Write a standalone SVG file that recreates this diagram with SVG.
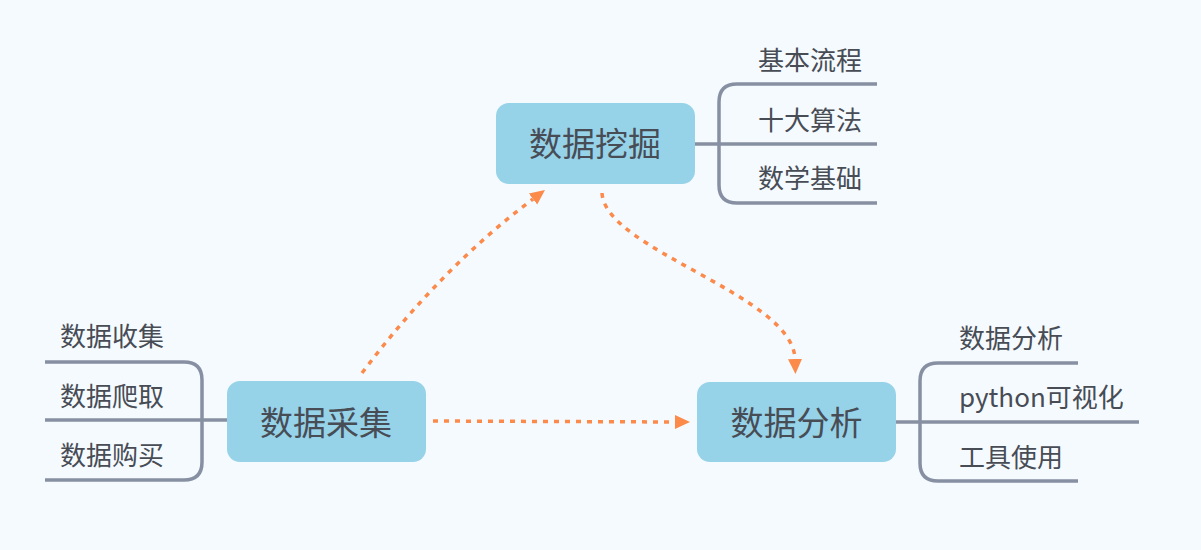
<svg xmlns="http://www.w3.org/2000/svg" width="1201" height="550" viewBox="0 0 1201 550">
  <style>
    .box { fill: #96d2e8; }
    .main { font-family: "Noto Sans CJK SC", "Noto Sans", sans-serif; font-size: 33px; fill: #474c55; text-anchor: middle; }
    .sub { font-family: "Noto Sans CJK SC", "Noto Sans", sans-serif; font-size: 26px; fill: #474c55; }
    .branch { fill: none; stroke: #8790a2; stroke-width: 3.5; stroke-linejoin: round; }
    .link { fill: none; stroke: #fb8a4b; stroke-width: 3.5; stroke-dasharray: 5 6; }
  </style>
  <defs>
    <marker id="arrow" markerUnits="userSpaceOnUse" markerWidth="16" markerHeight="16" viewBox="0 0 16 16" refX="0" refY="8" orient="auto">
      <path d="M0,1 L15,8 L0,15 Z" fill="#fb8a4b"/>
    </marker>
  </defs>
  <rect x="0" y="0" width="1201" height="550" fill="#f5faff"/>

  <g id="connectors">
    <path class="link" d="M362,373 Q441,268 533,199" marker-end="url(#arrow)"/>
    <path class="link" d="M602,193 C605,250 793,295 795,359" marker-end="url(#arrow)"/>
    <path class="link" d="M433,421 L675,422" marker-end="url(#arrow)"/>
  </g>

  <g id="node-mining">
    <rect class="box" x="496" y="103" width="199" height="81" rx="13"/>
    <text class="main" x="595" y="155.5">数据挖掘</text>
    <path class="branch" d="M877,84 H737 Q719,84 719,102 V185 Q719,203 737,203 H877"/>
    <path class="branch" d="M695,144 H877"/>
    <text class="sub" x="758" y="69.5">基本流程</text>
    <text class="sub" x="758" y="129.5">十大算法</text>
    <text class="sub" x="758" y="188">数学基础</text>
  </g>

  <g id="node-collect">
    <rect class="box" x="227" y="381" width="199" height="81" rx="13"/>
    <text class="main" x="326" y="434.5">数据采集</text>
    <path class="branch" d="M45,362 H184 Q202,362 202,380 V462 Q202,480 184,480 H45"/>
    <path class="branch" d="M45,420 H227"/>
    <text class="sub" x="60" y="346">数据收集</text>
    <text class="sub" x="60" y="406">数据爬取</text>
    <text class="sub" x="60" y="465">数据购买</text>
  </g>

  <g id="node-analysis">
    <rect class="box" x="697" y="382" width="199" height="80" rx="13"/>
    <text class="main" x="796.5" y="434.5">数据分析</text>
    <path class="branch" d="M1078,363 H938 Q920,363 920,381 V463 Q920,481 938,481 H1078"/>
    <path class="branch" d="M896,422 H1139"/>
    <text class="sub" x="959" y="348">数据分析</text>
    <text class="sub" x="959" y="407">python可视化</text>
    <text class="sub" x="959" y="466.5">工具使用</text>
  </g>
</svg>
